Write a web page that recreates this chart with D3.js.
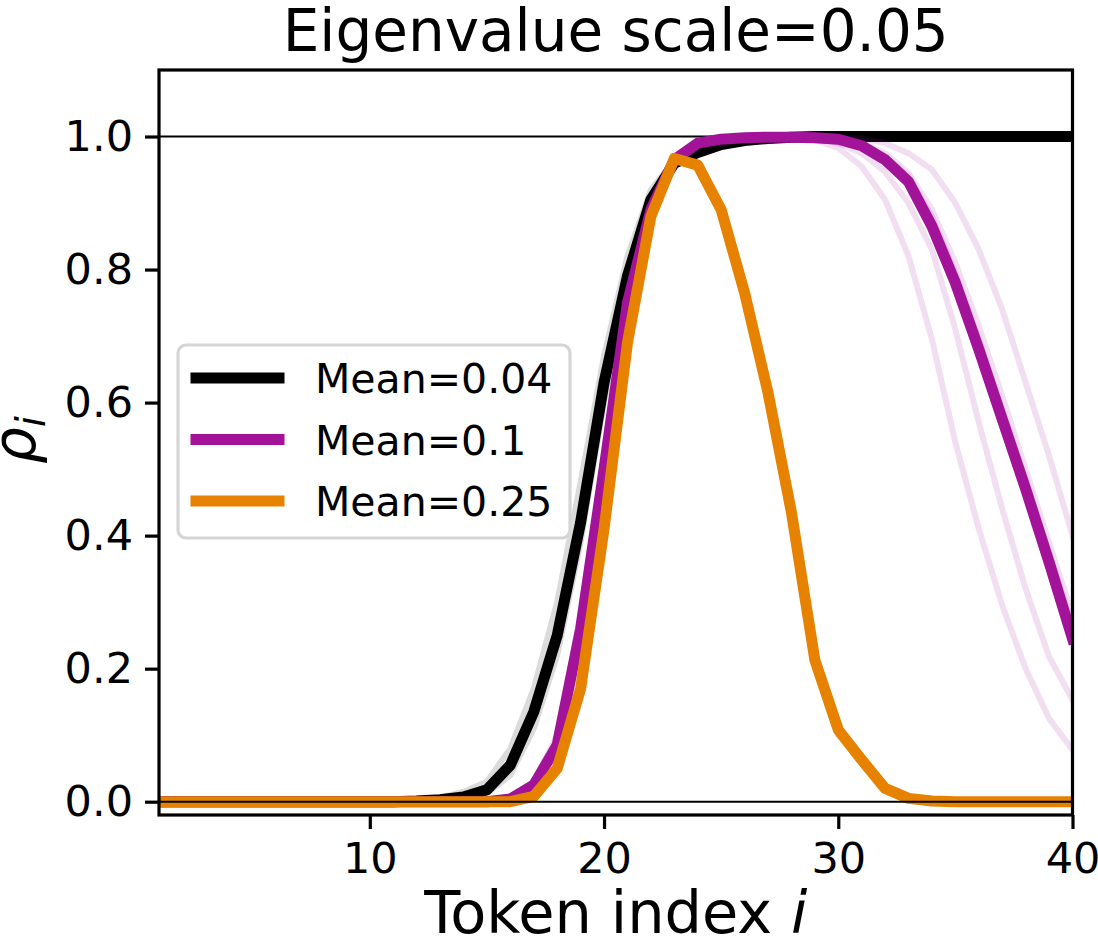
<!DOCTYPE html>
<html>
<head>
<meta charset="utf-8">
<title>Eigenvalue scale=0.05</title>
<script src="https://d3js.org/d3.v7.min.js"></script>
<style>
  body { margin: 0; background: #fff; }
  text { font-family: "DejaVu Sans", sans-serif; fill: #000; }
</style>
</head>
<body>
<div id="chart"></div>
<script>
// token positions 1..40
const tokenIndex = [1,2,3,4,5,6,7,8,9,10,11,12,13,14,15,16,17,18,19,20,
                    21,22,23,24,25,26,27,28,29,30,31,32,33,34,35,36,37,38,39,40];

const meanLabels = ["Mean=0.04", "Mean=0.1", "Mean=0.25"];
const xTicks = [10, 20, 30, 40];
const yTicks = [0.0, 0.2, 0.4, 0.6, 0.8, 1.0];

// thick lines (one per mean)
const rhoMean004 = [0,0,0,0,0,0,0,0,0,0,0,
  0.001,0.003,0.007,0.018,0.055,0.135,0.25,0.42,0.63,0.79,0.905,0.96,0.976,0.988,0.994,0.997,0.999,
  1,1,1,1,1,1,1,1,1,1,1,1];
const rhoMean01 = [0,0,0,0,0,0,0,0,0,0,0,0,0,0,0,
  0.004,0.025,0.085,0.26,0.5,0.75,0.89,0.965,0.99,0.996,0.998,0.999,0.999,0.998,0.996,
  0.986,0.965,0.932,0.865,0.78,0.68,0.575,0.47,0.36,0.245];
const rhoMean025 = [0,0,0,0,0,0,0,0,0,0,0,0,0,0,0,0,
  0.008,0.05,0.17,0.41,0.69,0.88,0.967,0.957,0.89,0.765,0.615,0.435,0.213,0.108,
  0.063,0.02,0.005,0.001,0,0,0,0,0,0];

// faint individual runs
const runsMean004 = [
  [0,0,0,0,0,0,0,0,0,0,0,
   0.002,0.006,0.015,0.03,0.08,0.17,0.3,0.48,0.67,0.82,0.92,0.965,0.985,0.993,0.997,0.999,1,
   1,1,1,1,1,1,1,1,1,1,1,1],
  [0,0,0,0,0,0,0,0,0,0,0,
   0.001,0.004,0.01,0.022,0.06,0.14,0.26,0.43,0.64,0.8,0.91,0.962,0.978,0.99,0.995,0.998,1,
   1,1,1,1,1,1,1,1,1,1,1,1],
  [0,0,0,0,0,0,0,0,0,0,0,
   0,0.001,0.004,0.012,0.04,0.11,0.22,0.39,0.6,0.77,0.89,0.955,0.975,0.986,0.993,0.997,0.999,
   1,1,1,1,1,1,1,1,1,1,1,1]
];
const runsMean01 = [
  [0,0,0,0,0,0,0,0,0,0,0,0,0,0,0,
   0.005,0.03,0.1,0.28,0.52,0.76,0.9,0.97,0.99,0.996,0.998,0.999,0.999,0.995,0.983,
   0.955,0.905,0.82,0.695,0.54,0.41,0.295,0.2,0.125,0.078],
  [0,0,0,0,0,0,0,0,0,0,0,0,0,0,0,
   0.003,0.02,0.075,0.23,0.47,0.72,0.88,0.96,0.987,0.995,0.998,0.999,0.999,0.998,0.99,
   0.975,0.947,0.9,0.83,0.71,0.57,0.44,0.32,0.218,0.153],
  [0,0,0,0,0,0,0,0,0,0,0,0,0,0,0,
   0.004,0.024,0.082,0.25,0.49,0.745,0.89,0.965,0.99,0.996,0.998,0.999,0.999,0.999,0.997,
   0.99,0.975,0.945,0.89,0.81,0.715,0.61,0.5,0.39,0.28],
  [0,0,0,0,0,0,0,0,0,0,0,0,0,0,0,
   0.005,0.027,0.09,0.265,0.51,0.755,0.895,0.967,0.99,0.996,0.998,0.999,0.999,0.998,0.996,
   0.988,0.97,0.94,0.88,0.795,0.695,0.59,0.485,0.375,0.265],
  [0,0,0,0,0,0,0,0,0,0,0,0,0,0,0,
   0.004,0.022,0.08,0.245,0.485,0.74,0.885,0.963,0.989,0.996,0.998,0.999,1,1,0.999,
   0.997,0.99,0.975,0.95,0.9,0.83,0.74,0.63,0.52,0.4]
];
const runsMean025 = [
  [0,0,0,0,0,0,0,0,0,0,0,0,0,0,0,0,
   0.012,0.06,0.19,0.43,0.71,0.885,0.965,0.955,0.885,0.76,0.6,0.42,0.205,0.1,
   0.058,0.017,0.004,0.001,0,0,0,0,0,0],
  [0,0,0,0,0,0,0,0,0,0,0,0,0,0,0,0,
   0.006,0.045,0.16,0.4,0.68,0.875,0.968,0.958,0.892,0.77,0.625,0.45,0.222,0.114,
   0.067,0.022,0.006,0.001,0,0,0,0,0,0]
];

const lineColors = ["#000000", "#a2139a", "#e68200"];

const series = [
  { label: meanLabels[0], color: lineColors[0], main: rhoMean004, runs: runsMean004 },
  { label: meanLabels[1], color: lineColors[1], main: rhoMean01,  runs: runsMean01 },
  { label: meanLabels[2], color: lineColors[2], main: rhoMean025, runs: runsMean025 }
];

const width = 1098;
const height = 945;
const marginLeft = 159;
const marginRight = 25.5;
const marginTop = 70;
const marginBottom = 130;

const svg = d3.select("#chart")
  .append("svg")
  .attr("width", width)
  .attr("height", height)
  .attr("viewBox", [0, 0, width, height]);

const x = d3.scaleLinear()
  .domain([1, 40])
  .range([marginLeft, width - marginRight]);

const y = d3.scaleLinear()
  .domain([-0.02, 1.1])
  .range([height - marginBottom, marginTop]);

svg.append("clipPath").attr("id", "plot-clip")
  .append("rect")
  .attr("x", marginLeft).attr("y", marginTop)
  .attr("width", width - marginLeft - marginRight)
  .attr("height", height - marginTop - marginBottom);

const plot = svg.append("g").attr("clip-path", "url(#plot-clip)");

const line = d3.line()
  .x((d, i) => x(tokenIndex[i]))
  .y(d => y(d));

// reference line at 1 (under the curves)
plot.append("line")
  .attr("x1", x(1)).attr("x2", x(40))
  .attr("y1", y(1)).attr("y2", y(1))
  .attr("stroke", "#000").attr("stroke-width", 2);

series.forEach(s => {
  plot.selectAll(null)
    .data(s.runs)
    .join("path")
    .attr("d", line)
    .attr("fill", "none")
    .attr("stroke", s.color)
    .attr("stroke-opacity", 0.14)
    .attr("stroke-width", 6)
    .attr("stroke-linejoin", "round")
    .attr("stroke-linecap", "square");

  plot.append("path")
    .datum(s.main)
    .attr("d", line)
    .attr("fill", "none")
    .attr("stroke", s.color)
    .attr("stroke-width", 11)
    .attr("stroke-linejoin", "round")
    .attr("stroke-linecap", "square");
});

// reference line at 0 (over the curves)
plot.append("line")
  .attr("x1", x(1)).attr("x2", x(40))
  .attr("y1", y(0)).attr("y2", y(0))
  .attr("stroke", "#000").attr("stroke-width", 2);

// axes
const xAxis = svg.append("g")
  .attr("transform", `translate(0,${height - marginBottom})`)
  .call(d3.axisBottom(x).tickValues(xTicks).tickSize(14).tickPadding(13).tickFormat(d3.format("d")));

const yAxis = svg.append("g")
  .attr("transform", `translate(${marginLeft},0)`)
  .call(d3.axisLeft(y).tickValues(yTicks).tickSize(14).tickPadding(12).tickFormat(d3.format(".1f")));

[xAxis, yAxis].forEach(g => {
  g.select(".domain").remove();
  g.selectAll(".tick line").attr("stroke", "#000").attr("stroke-width", 3.2);
  g.selectAll(".tick text")
    .attr("fill", "#000")
    .style("font-family", '"DejaVu Sans", sans-serif')
    .style("font-size", "43px");
});

// frame
svg.append("rect")
  .attr("x", marginLeft).attr("y", marginTop)
  .attr("width", width - marginLeft - marginRight)
  .attr("height", height - marginTop - marginBottom)
  .attr("fill", "none")
  .attr("stroke", "#000")
  .attr("stroke-width", 3.2);

// title
svg.append("text")
  .attr("x", (marginLeft + width - marginRight) / 2)
  .attr("y", 51)
  .attr("text-anchor", "middle")
  .style("font-size", "58px")
  .text("Eigenvalue scale=0.05");

// x label
const xl = svg.append("text")
  .attr("x", (marginLeft + width - marginRight) / 2)
  .attr("y", 933)
  .attr("text-anchor", "middle")
  .style("font-size", "59px");
xl.append("tspan").text("Token index ");
xl.append("tspan").style("font-style", "italic").text("i");

// y label
const yl = svg.append("text")
  .attr("transform", "translate(35,440) rotate(-90)")
  .attr("text-anchor", "middle")
  .style("font-size", "58px");
yl.append("tspan").style("font-style", "italic").text("ρ");
yl.append("tspan").style("font-style", "italic").style("font-size", "40px")
  .attr("dy", 10).text("i");

// legend
const legend = svg.append("g");
legend.append("rect")
  .attr("x", 178).attr("y", 345)
  .attr("width", 392).attr("height", 193)
  .attr("rx", 8)
  .attr("fill", "#fff").attr("fill-opacity", 0.8)
  .attr("stroke", "#d5d5d5").attr("stroke-width", 3.2);

series.forEach((s, i) => {
  const cy = 378 + i * 61.5;
  legend.append("line")
    .attr("x1", 196).attr("x2", 279)
    .attr("y1", cy).attr("y2", cy)
    .attr("stroke", s.color)
    .attr("stroke-width", 11)
    .attr("stroke-linecap", "square");
  legend.append("text")
    .attr("x", 315).attr("y", cy + 15)
    .style("font-size", "41px")
    .text(s.label);
});
</script>
</body>
</html>
